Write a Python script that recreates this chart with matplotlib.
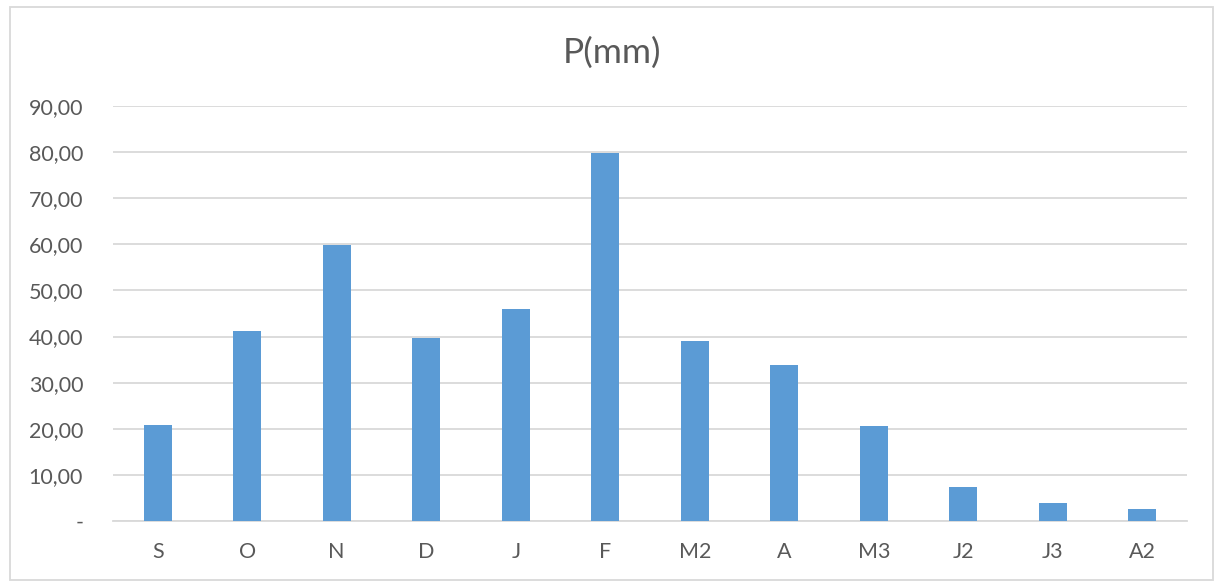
import numpy as np
import matplotlib.pyplot as plt
from matplotlib.patches import Rectangle

# monthly precipitation
months = ["S", "O", "N", "D", "J", "F", "M2", "A", "M3", "J2", "J3", "A2"]
precip = [20.8, 41.2, 59.8, 39.7, 46.0, 79.9, 39.0, 33.8, 20.6, 7.4, 4.0, 2.7]
yticks = [0, 10, 20, 30, 40, 50, 60, 70, 80, 90]

txt = "#595959"
grid_c = "#D9D9D9"

plt.rcParams['font.family'] = ['Lato', 'DejaVu Sans']

fig = plt.figure(figsize=(12.17, 5.84), dpi=100)
ax = fig.add_axes([113/1217, 1 - 521/584, (1187-113)/1217, (521-106)/584])

x = np.arange(len(months))
ax.bar(x, precip, width=0.31, color="#5B9BD5", zorder=3)

ax.set_xlim(-0.5, len(months) - 0.5)
ax.set_ylim(0, 90)
ax.set_yticks(yticks)
ax.set_yticklabels(["-" if v == 0 else f"{v:.2f}".replace(".", ",") for v in yticks])
ax.set_xticks(x)
ax.set_xticklabels(months)
ax.grid(axis="y", color=grid_c, linewidth=1.3, zorder=0)
ax.tick_params(length=0, labelsize=15.5, labelcolor=txt)
ax.tick_params(axis="y", pad=21.5)
ax.tick_params(axis="x", pad=15)
for s in ["top", "right", "left"]:
    ax.spines[s].set_visible(False)
ax.spines["bottom"].set_color(grid_c)
ax.spines["bottom"].set_linewidth(1.3)

fig.text(612/1217, 1 - 53/584, "P(mm)", ha="center", va="center", fontsize=25.5, color=txt)

# chart frame
fig.patches.append(Rectangle((10/1217, 4/584), 1203/1217, 573/584, transform=fig.transFigure,
                             fill=False, edgecolor=grid_c, linewidth=1.3))

fig.savefig("out.png", dpi=100)
